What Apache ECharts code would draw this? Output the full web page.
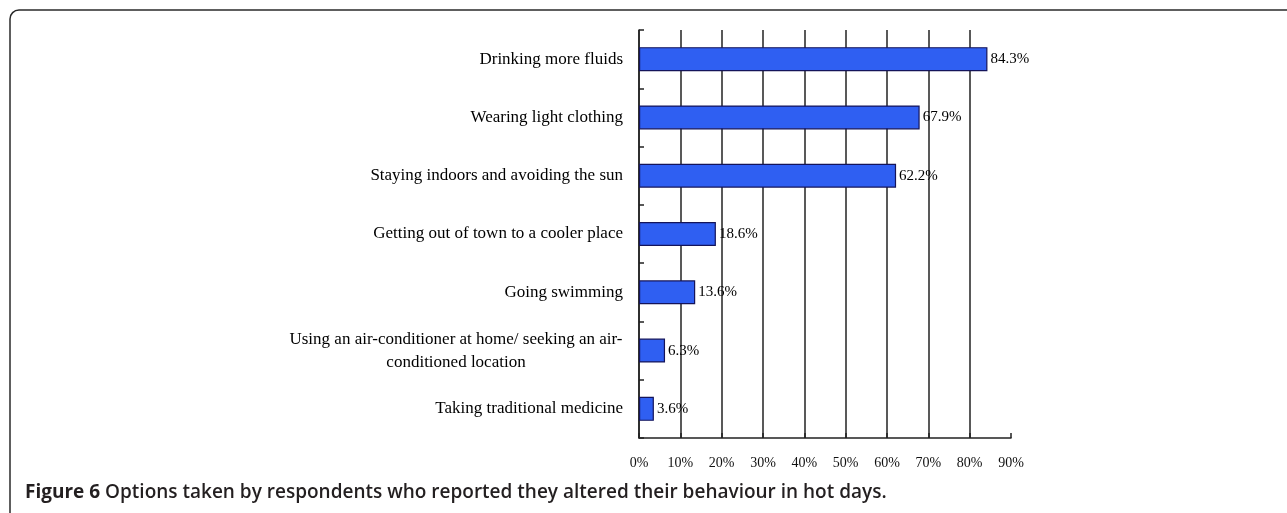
<!DOCTYPE html>
<html>
<head>
<meta charset="utf-8">
<script src="https://cdn.jsdelivr.net/npm/echarts@6/dist/echarts.min.js"></script>
<style>
  html, body { margin: 0; padding: 0; background: #fff; }
  #chart { width: 1287px; height: 513px; }
</style>
</head>
<body>
<div id="chart"></div>
<script>
// 类别（从上到下）
const categories = [
  "Drinking more fluids",
  "Wearing light clothing",
  "Staying indoors and avoiding the sun",
  "Getting out of town to a cooler place",
  "Going swimming",
  "Using an air-conditioner at home/ seeking an air-\nconditioned location",
  "Taking traditional medicine",
];
// 百分比
const percentValues = [84.3, 67.9, 62.2, 18.6, 13.6, 6.3, 3.6];
// x 轴刻度
const tickMin = 0;
const tickMax = 90;
const tickStep = 10;
const captionBold = "Figure 6";
const captionText = " Options taken by respondents who reported they altered their behaviour in hot days.";

(() => {
  configBehaviourChart();
})();

function configBehaviourChart() {
  const chart = echarts.init(document.getElementById("chart"));
  const serif = "'Liberation Serif', 'Times New Roman', serif";
  const sans = "'Open Sans', 'Noto Sans', sans-serif";
  const lineColor = "#222";

  const option = {
    animation: false,
    grid: {
      left: 639,
      right: 276,
      top: 30,
      bottom: 75,
    },
    xAxis: {
      type: "value",
      min: tickMin,
      max: tickMax,
      interval: tickStep,
      axisLine: {
        show: true,
        lineStyle: { color: lineColor, width: 1.5 },
      },
      axisTick: {
        show: true,
        inside: true,
        length: 5,
        lineStyle: { color: lineColor, width: 1.5 },
      },
      axisLabel: {
        formatter: "{value}%",
        fontFamily: serif,
        fontSize: 14,
        color: "#111",
        margin: 18,
      },
      splitLine: {
        show: true,
        showMaxLine: false,
        lineStyle: { color: lineColor, width: 1.5 },
      },
    },
    yAxis: {
      type: "category",
      inverse: true,
      data: categories,
      axisLine: {
        show: true,
        lineStyle: { color: lineColor, width: 1.5 },
      },
      axisTick: {
        show: true,
        inside: true,
        length: 5,
        lineStyle: { color: lineColor, width: 1.5 },
      },
      axisLabel: {
        fontFamily: serif,
        fontSize: 17,
        color: "#000",
        margin: 16,
        lineHeight: 23,
        formatter: (value) => {
          if (value.indexOf("\n") < 0) return value;
          return value
            .split("\n")
            .map((line) => "{c|" + line + "}")
            .join("\n");
        },
        rich: {
          c: {
            width: 334,
            align: "center",
            fontFamily: serif,
            fontSize: 17,
            lineHeight: 23,
            color: "#000",
          },
        },
      },
    },
    series: [
      {
        type: "bar",
        data: percentValues,
        barWidth: 24,
        itemStyle: {
          color: "#2F5FF2",
          borderColor: "#14145a",
          borderWidth: 1.2,
        },
        label: {
          show: true,
          position: "right",
          distance: 3,
          formatter: "{c}%",
          fontFamily: serif,
          fontSize: 15,
          color: "#000",
        },
      },
    ],
    graphic: [
      {
        type: "rect",
        shape: { x: 10, y: 10, width: 1320, height: 540, r: 9 },
        style: { fill: "none", stroke: "#2a2a2a", lineWidth: 1.5 },
      },
      {
        type: "text",
        left: 25,
        top: 483,
        style: {
          text: "{b|" + captionBold + "}" + captionText,
          fontFamily: sans,
          fontSize: 19,
          fontWeight: 600,
          fill: "#231f20",
          rich: {
            b: {
              fontWeight: "bold",
              fontFamily: sans,
              fontSize: 19,
              fill: "#231f20",
            },
          },
        },
      },
    ],
  };
  chart.setOption(option);
}
</script>
</body>
</html>
